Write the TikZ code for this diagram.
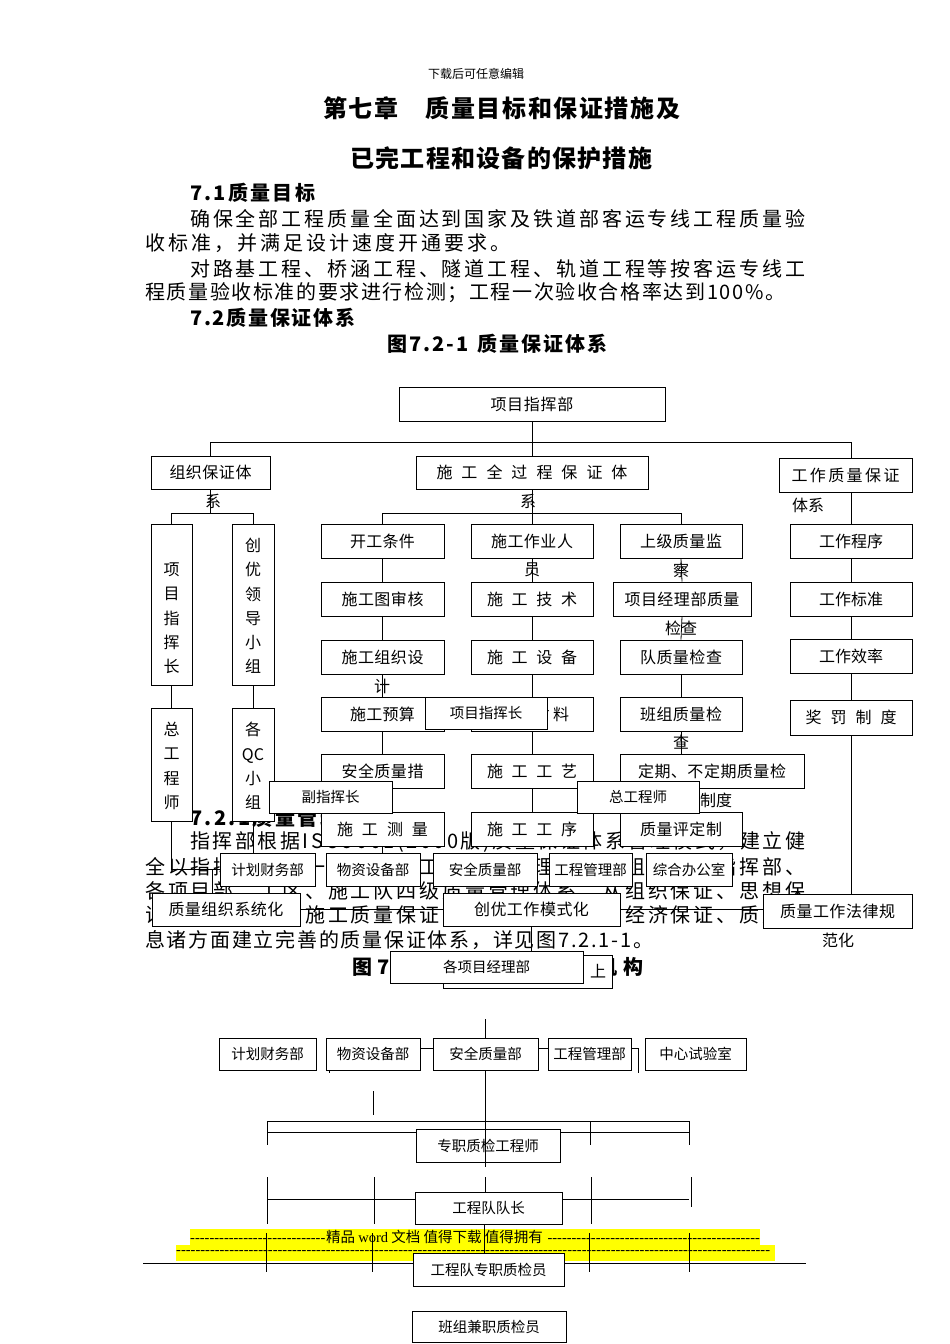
\documentclass[tikz,border=0pt]{standalone}
\usepackage{fontspec}
\setmainfont{Noto Sans CJK SC}
\newfontfamily\lserif{Liberation Serif}
\definecolor{hl}{RGB}{255,255,0}
% spread the characters of #2 evenly over width #1
\newcommand\jl[2]{\hbox to #1{\jlA#2\relax}}
\def\jlA#1{#1\jlB}
\def\jlB#1{\ifx#1\relax\else\hfil#1\expandafter\jlB\fi}
\newcommand\fA{\fontsize{16}{19}\selectfont}
\newcommand\fV{\fontsize{16}{24.3}\selectfont}
\newcommand\fB{\fontsize{14.5}{17}\selectfont}
\newcommand\fP{\fontsize{20}{24}\selectfont}
\newcommand\fPb{\fontsize{20}{24}\selectfont\bfseries}
\newcommand\fT{\fontsize{24}{28}\selectfont\bfseries}
\newcommand\fH{\fontsize{12}{14}\selectfont}
\newcommand\fY{\fontsize{14.5}{16}\selectfont}
\newcommand\Bx[7]{%
  \pgfmathsetmacro\bxw{#5-#3}\pgfmathsetmacro\bxh{#6-#4}%
  \node[#1, minimum width=\bxw pt, minimum height=\bxh pt] (#2) at ({(#3+#5)/2},{(#4+#6)/2}) {#7};}
\tikzset{
  ln/.style={line width=0.8pt},
  bx/.style={draw, fill=white, line width=0.8pt, inner sep=0pt, font=\fA},
  ob/.style={bx, font=\fB},
  tx/.style={inner sep=0pt, anchor=west},
  lb/.style={inner sep=0pt, font=\fA},
  vt/.style={inner sep=0pt, font=\fV, align=center},
}
\begin{document}
\begin{tikzpicture}[x=1pt,y=-1pt]
\useasboundingbox (0,0) rectangle (950,1344);
\fill[white] (0,0) rectangle (950,1344);

% ---------- running text ----------
\node[inner sep=0pt, font=\fH] (hdr) at (476,74) {下载后可任意编辑};
\node[tx, font=\fT] (t1) at (323,108) {\jl{357pt}{第七章　质量目标和保证措施及}};
\node[tx, font=\fT] (t2) at (350,158) {\jl{302pt}{已完工程和设备的保护措施}};
\node[tx, font=\fPb] (h71) at (190,193) {\jl{125pt}{7.1质量目标}};
\node[tx, font=\fP] (p11) at (190,219) {\jl{615pt}{确保全部工程质量全面达到国家及铁道部客运专线工程质量验}};
\node[tx, font=\fP] (p12) at (145,243) {\jl{365pt}{收标准，并满足设计速度开通要求。}};
\node[tx, font=\fP] (p13) at (190,269) {\jl{615pt}{对路基工程、桥涵工程、隧道工程、轨道工程等按客运专线工}};
\node[tx, font=\fP] (p14) at (145,293) {\jl{640pt}{程质量验收标准的要求进行检测；工程一次验收合格率达到100\%。}};
\node[tx, font=\fPb] (h72) at (190,318) {\jl{165pt}{7.2质量保证体系}};
\node[tx, font=\fPb] (cap1) at (387,344) {\jl{220pt}{图7.2-1~质量保证体系}};

\node[tx, font=\fPb] (h721) at (190,818) {\jl{195pt}{7.2.1质量管理机构}};
\node[tx, font=\fP] (q11) at (190,842) {\jl{615pt}{指挥部根据ISO9001(2000版)质量保证体系管理模式，建立健}};
\node[tx, font=\fP] (q12) at (145,867) {\jl{660pt}{全以指挥长为首一级抓一级工程部门管理、质检组织、由指挥部、}};
\node[tx, font=\fP] (q13) at (145,891) {\jl{660pt}{各项目部、工区、施工队四级质量管理体系，从组织保证、思想保}};
\node[tx, font=\fP] (q14) at (145,915) {\jl{660pt}{证、技术保证、施工质量保证、工作质量保证、经济保证、质量信}};
\node[tx, font=\fP] (q15) at (145,940) {\jl{508pt}{息诸方面建立完善的质量保证体系，详见图7.2.1-1。}};
\node[tx, font=\fPb] (cap2) at (352,967) {\jl{291pt}{图7.2.1-1~质量管理机构}};

% ---------- chart 1 ----------
\Bx{bx}{top}{399}{387}{665}{421}{\jl{83pt}{项目指挥部}}
\Bx{bx}{org}{151}{456}{270}{489}{\jl{82pt}{组织保证体}}
\Bx{bx}{proc}{416}{456}{648}{489}{\jl{191pt}{施工全过程保证体}}
\Bx{bx}{work}{779}{458}{912}{492}{\jl{108pt}{工作质量保证}}

\Bx{bx}{L1}{151}{524}{192}{685}{}
\Bx{bx}{L2}{232}{524}{274}{685}{}
\Bx{bx}{L3}{151}{708}{192}{821}{}
\Bx{bx}{L4}{232}{708}{274}{821}{}
\node[vt] (L1t) at (171.5,618.5) {项\\目\\指\\挥\\长};
\node[vt] (L2t) at (253,606) {创\\优\\领\\导\\小\\组};
\node[vt] (L3t) at (171.5,766) {总\\工\\程\\师};
\node[vt] (L4t) at (253,766) {各\\QC\\小\\组};

\Bx{bx}{A1}{321}{524}{444}{558}{\jl{65pt}{开工条件}}
\Bx{bx}{A2}{321}{582}{444}{616}{\jl{82pt}{施工图审核}}
\Bx{bx}{A3}{321}{640}{444}{674}{\jl{82pt}{施工组织设}}
\Bx{bx}{A4}{321}{697}{444}{731}{\jl{65pt}{施工预算}}
\Bx{bx}{A5}{321}{754}{444}{788}{\jl{82pt}{安全质量措}}
\Bx{bx}{A6}{321}{812}{444}{846}{\jl{91pt}{施工测量}}

\Bx{bx}{B1}{471}{524}{593}{558}{\jl{82pt}{施工作业人}}
\Bx{bx}{B2}{471}{582}{593}{616}{\jl{90pt}{施工技术}}
\Bx{bx}{B3}{471}{640}{593}{674}{\jl{90pt}{施工设备}}
\Bx{bx}{B4}{471}{697}{593}{731}{\jl{74pt}{施工材料}}
\Bx{bx}{B5}{471}{754}{593}{788}{\jl{90pt}{施工工艺}}
\Bx{bx}{B6}{471}{812}{593}{846}{\jl{90pt}{施工工序}}

\Bx{bx}{C1}{620}{524}{742}{558}{\jl{82pt}{上级质量监}}
\Bx{bx}{C2}{613}{582}{751}{616}{\jl{115pt}{项目经理部质量}}
\Bx{bx}{C3}{620}{640}{742}{674}{\jl{82pt}{队质量检查}}
\Bx{bx}{C4}{620}{697}{742}{731}{\jl{82pt}{班组质量检}}
\Bx{bx}{C5}{620}{754}{804}{788}{\jl{148pt}{定期、不定期质量检}}
\Bx{bx}{C6}{620}{812}{742}{846}{\jl{82pt}{质量评定制}}

\Bx{bx}{R1}{790}{524}{912}{558}{\jl{64pt}{工作程序}}
\Bx{bx}{R2}{790}{582}{912}{616}{\jl{64pt}{工作标准}}
\Bx{bx}{R3}{790}{639}{912}{673}{\jl{64pt}{工作效率}}
\Bx{bx}{R4}{790}{700}{912}{735}{\jl{91pt}{奖罚制度}}
\Bx{bx}{R5}{763}{894}{912}{928}{\jl{115pt}{质量工作法律规}}

\draw[ln] (top.south) -- (top.south |- 0,442);
\draw[ln] (org.north) |- (R1.north |- 0,442) -- (R1.north |- work.north);
\draw[ln] (proc.north) -- (proc.north |- 0,442);
\draw[ln] (proc.south) -- (B1.north);
\draw[ln] (A1.north) |- (C1.north |- 0,513) -- (C1.north);
\draw[ln] (org.south) -- (org.south |- 0,513);
\draw[ln] (L1.north) |- (L2.north |- 0,513) -- (L2.north);
\draw[ln] (L1.south) -- (L3.north);
\draw[ln] (L2.south) -- (L4.north);
\foreach \c in {A,B} {\foreach \i/\j in {1/2,2/3,3/4,4/5,5/6} {\draw[ln] (\c\i.south) -- (\c\j.north);}}
\draw[ln] (C1.south) -- (C2.north);
\draw[ln] (C2.south) -- (C3.north);
\draw[ln] (C3.south) -- (C4.north);
\draw[ln] (C4.south) -- (C4.south |- C5.north);
\draw[ln] (C6.north) -- (C6.north |- C5.south);
\draw[ln] (R1.north) -- (R1.north |- work.south);
\draw[ln] (R1.south) -- (R2.north);
\draw[ln] (R2.south) -- (R3.north);
\draw[ln] (R3.south) -- (R4.north);
\draw[ln] (R4.south) -- (R4.south |- R5.north);

\node[lb] (x1) at (213,501) {系};
\node[lb] (x2) at (528,501) {系};
\node[lb] (x3) at (808,505) {体系};
\node[lb] (x4) at (532,570) {员};
\node[lb] (x5) at (681,570) {察};
\node[lb] (x6) at (681,628) {检查};
\node[lb] (x7) at (382,686) {计};
\node[lb] (x8) at (681,742) {查};
\node[lb, anchor=west] (x9) at (684,800) {验制度};
\node[lb] (x10) at (838,940) {范化};

% ---------- overlaid chart ----------
\Bx{ob}{o1}{425}{697}{547}{729}{项目指挥长}
\Bx{ob}{o2}{269}{781}{392}{813}{副指挥长}
\Bx{ob}{o3}{577}{781}{699}{813}{总工程师}
\Bx{ob}{p1}{220}{853}{315}{886}{计划财务部}
\Bx{ob}{p2}{326}{853}{420}{886}{物资设备部}
\Bx{ob}{p3}{433}{853}{537}{886}{安全质量部}
\Bx{ob}{p4}{549}{853}{632}{886}{工程管理部}
\Bx{ob}{p5}{646}{853}{732}{886}{综合办公室}
\Bx{bx}{q1}{152}{893}{300}{926}{\jl{115pt}{质量组织系统化}}
\Bx{bx}{q2}{443}{893}{620}{926}{\jl{115pt}{创优工作模式化}}
\Bx{ob}{r0}{443}{955}{612}{988}{}
\node[lb] (r0t) at (598,971) {上};
\Bx{ob}{r1}{390}{951}{583}{983}{各项目经理部}

\draw[ln] (L3.south) |- (p1.west);
\draw[ln] (L4.south) -- (L4.south |- p1.north);
\draw[ln] (A6.south) -- (A6.south |- p2.north);
\draw[ln] (q1.north -| 212,0) -- (212,0 |- p1.west);
\draw[ln] (q1.east) -- (q2.west);
\draw[ln] (q2.east) -- (q2.east -| R5.west);
\draw[ln] (q2.south) -- (q2.south |- r1.north);

% ---------- lower chart ----------
\fill[hl] (190,1229) rectangle (760,1245);
\fill[hl] (176,1245) rectangle (775,1261);
\node[tx, font=\fY] (w1) at (190,1237) {\hbox to 570pt{\lserif\leaders\hbox{-}\hskip136pt\relax\rmfamily 精品 {\lserif word} 文档 值得下载 值得拥有\lserif\leaders\hbox{-}\hfill}};
\node[tx, font=\fY] (w2) at (176,1253) {\hbox to 598pt{\lserif\leaders\hbox{-}\hfill}};

\coordinate (s0) at (485.5,1019);
\Bx{ob}{d1}{219}{1038}{316}{1070}{计划财务部}
\Bx{ob}{d2}{326}{1038}{420}{1070}{物资设备部}
\Bx{ob}{d3}{433}{1038}{538}{1070}{安全质量部}
\Bx{ob}{d4}{548}{1038}{631}{1070}{工程管理部}
\Bx{ob}{d5}{645}{1038}{746}{1070}{中心试验室}
\Bx{ob}{e1}{416}{1129}{560}{1162}{专职质检工程师}
\Bx{ob}{f1}{415}{1192}{562}{1224}{工程队队长}
\Bx{ob}{g1}{413}{1253}{564}{1286}{工程队专职质检员}
\Bx{ob}{h1}{412}{1311}{566}{1342}{班组兼职质检员}

\draw[ln] (s0) -- (d3.north);
\draw[ln] ([yshift=6pt]d2.east) -- ([yshift=6pt]d3.west);
\draw[ln] ([yshift=6pt]d3.east) -- ([yshift=6pt]d4.west);
\draw[ln] ([yshift=6pt]d4.east) -- ++(7,0) -- ++(0,25);
\draw[ln] ([xshift=4pt]d2.south west) -- ++(0,3);
\draw[ln] (d3.south) -- (d3.south |- 0,1167);
\coordinate (k1) at (373,1091);
\coordinate (k2) at (373,1115);
\draw[ln] (k1) -- (k2);
\draw[ln] (267,1121) -- (689,1121);
\draw[ln] (267,1132) -- (e1.west |- 0,1132);
\draw[ln] (e1.east |- 0,1132) -- (689,1132);
\foreach \x in {267,590,689} {\draw[ln] (\x,1121) -- (\x,1145);}
\foreach \x in {267,374,591} {\draw[ln] (\x,1177) -- (\x,1224);}
\draw[ln] (d3.south |- 0,1177) -- (d3.south |- f1.north);
\draw[ln] (691,1177) -- (691,1207);
\draw[ln] (267,1199) -- (f1.west |- 0,1199);
\draw[ln] (f1.east |- 0,1199) -- (689,1199);
\foreach \x in {266,372,589,689} {\draw[ln] (\x,1233) -- (\x,1272);}
\draw[ln] (f1.south -| 484,0) -- (484,0 |- g1.north);
\draw[ln] (143,1263) -- (g1.west |- 0,1263);
\draw[ln] (g1.east |- 0,1263) -- (806,1263);
\end{tikzpicture}
\end{document}
